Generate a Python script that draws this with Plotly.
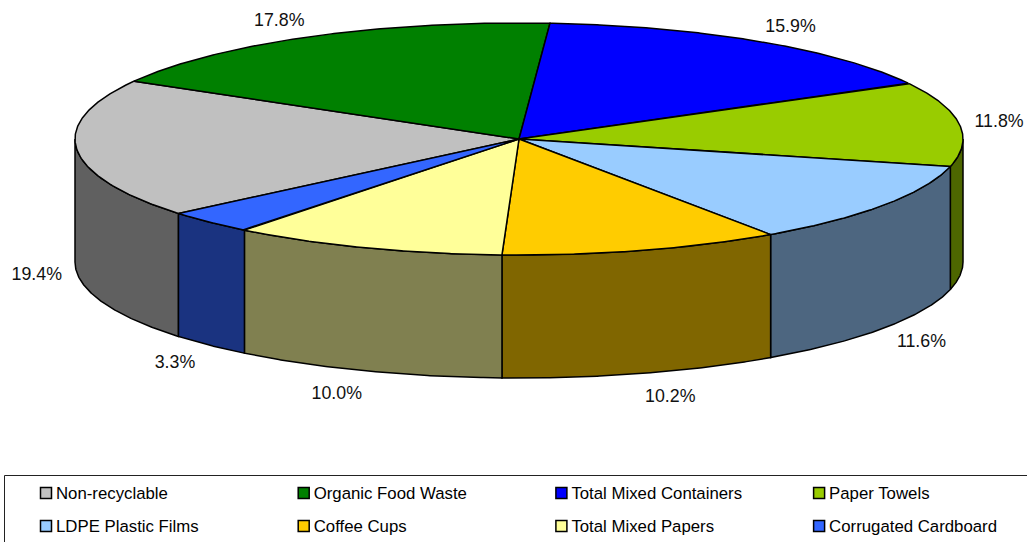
import numpy as np
import plotly.graph_objects as go

# ---- data ----
categories = ["Non-recyclable", "Organic Food Waste", "Total Mixed Containers", "Paper Towels",
              "LDPE Plastic Films", "Coffee Cups", "Total Mixed Papers", "Corrugated Cardboard"]
values = [19.4, 17.8, 15.9, 11.8, 11.6, 10.2, 10.0, 3.3]
top_colors = ["#C0C0C0", "#008000", "#0000FF", "#99CC00", "#99CCFF", "#FFCC00", "#FFFF99", "#3366FF"]
wall_colors = ["#606060", "#004000", "#000080", "#4D6600", "#4D6680", "#806600", "#808050", "#1A3380"]

# ---- pie geometry (pixels; the axes span the page) ----
W, H = 1027, 542
CX, CY, RX, RY, DEPTH = 519.0, 139.0, 444.0, 116.0, 123.0
GREEN_BLUE_ANGLE = 4.0   # clockwise from top, boundary between Organic and Containers
FONT = "Liberation Sans, Arial, sans-serif"


def rim(t):
    r = np.radians(t)
    return CX + RX * np.sin(r), CY - RY * np.cos(r)


fracs = np.array(values) / sum(values) * 360
start = GREEN_BLUE_ANGLE - fracs[0] - fracs[1]
edges = start + np.concatenate([[0], np.cumsum(fracs)])

fig = go.Figure()

# side walls: the front half of the rim only (90..270 deg)
walls = []
tops = []
for i, name in enumerate(categories):
    t0, t1 = edges[i], edges[i + 1]
    ts = np.linspace(t0, t1, 160)
    x, y = rim(ts)
    tops.append(go.Scatter(x=np.r_[CX, x, CX], y=np.r_[CY, y, CY], mode="lines", fill="toself",
                           fillcolor=top_colors[i], line=dict(color="black", width=1.5),
                           name=name, hoverinfo="name", showlegend=False))
    for shift in (0, 360, -360):
        a, b = max(t0 + shift, 90), min(t1 + shift, 270)
        if a < b:
            tw = np.linspace(a, b, 120)
            wx, wy = rim(tw)
            walls.append(go.Scatter(x=np.r_[wx, wx[::-1], wx[0]],
                                    y=np.r_[wy, wy[::-1] + DEPTH, wy[0]],
                                    mode="lines", fill="toself", fillcolor=wall_colors[i],
                                    line=dict(color="black", width=1.5),
                                    hoverinfo="skip", showlegend=False))
fig.add_traces(walls + tops)

# data labels
mid = (edges[:-1] + edges[1:]) / 2
sn, cs = np.sin(np.radians(mid)), np.cos(np.radians(mid))
lx, ly = rim(mid)
lx = lx + np.sign(sn) * (23 + 17 * np.abs(sn))
ly = ly + 1.5 - np.where(cs > 0, 18.5, 24) * cs + np.where(cs < 0, DEPTH, 0)
fig.add_trace(go.Scatter(x=lx, y=ly, mode="text", text=[f"{v:.1f}%" for v in values],
                         textposition="middle center",
                         textfont=dict(family=FONT, size=17.8, color="#111111"),
                         hoverinfo="skip", showlegend=False))

# legend: 4 columns x 2 rows inside a frame running off the page
for i, name in enumerate(categories):
    col, row = i % 4, i // 4
    sx, sy = 46 + 257.7 * col, 493 + 33 * row
    fig.add_trace(go.Scatter(x=[sx], y=[sy], mode="markers",
                             marker=dict(symbol="square", size=11, color=top_colors[i],
                                         line=dict(color="black", width=1.5)),
                             hoverinfo="skip", showlegend=False))
    fig.add_trace(go.Scatter(x=[sx + 10], y=[sy + 1.5], mode="text",
                             text=[name], textposition="middle right",
                             textfont=dict(family=FONT, size=16.8, color="black"),
                             hoverinfo="skip", showlegend=False))

fig.update_layout(
    width=W, height=H, margin=dict(l=0, r=0, t=0, b=0),
    paper_bgcolor="white", plot_bgcolor="white", showlegend=False,
    xaxis=dict(range=[0, W], visible=False, fixedrange=True),
    yaxis=dict(range=[H, 0], visible=False, fixedrange=True),
    shapes=[dict(type="rect", xref="x", yref="y", x0=4.5, y0=475.5, x1=W + 10, y1=H + 10,
                 line=dict(color="#222222", width=1), fillcolor="rgba(0,0,0,0)")],
)
fig.write_html("out.html", config=dict(displayModeBar=False),
               post_script="document.body.style.margin='0';document.documentElement.style.overflow='hidden';")
